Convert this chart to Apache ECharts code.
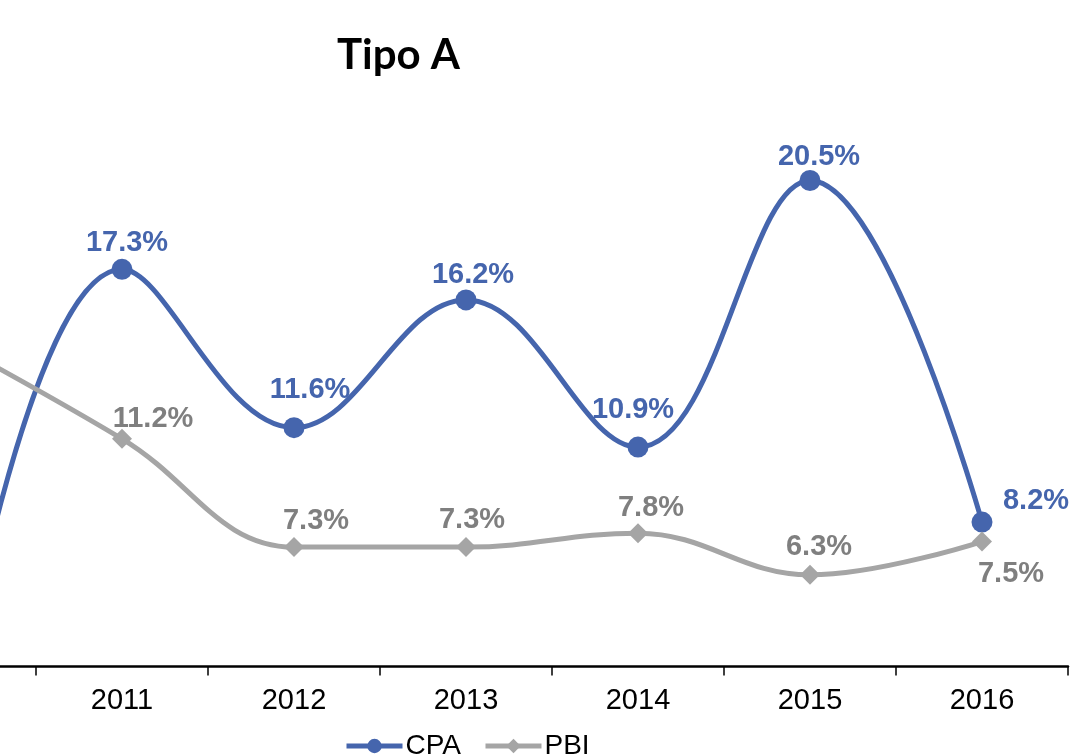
<!DOCTYPE html>
<html>
<head>
<meta charset="utf-8">
<title>Tipo A</title>
<script src="https://cdn.jsdelivr.net/npm/echarts@6/dist/echarts.min.js"></script>
<style>
  html, body { margin: 0; padding: 0; background: #fff; overflow: hidden; }
  #chart { position: absolute; left: -136px; top: 0; width: 1207px; height: 754px; }
</style>
</head>
<body>
<div id="chart"></div>
<script>
// data (2010 is only partly visible at the left edge)
const years = ['2010', '2011', '2012', '2013', '2014', '2015', '2016']
const cpaValues = [0.5, 17.3, 11.6, 16.2, 10.9, 20.5, 8.2]
const pbiValues = [14.7, 11.2, 7.3, 7.3, 7.8, 6.3, 7.5]

// label offsets from the marker centre, px
const cpaLabelOffsets = [[0, 0], [5, -26], [16, -38], [7, -25], [-5, -37], [9, -24], [54, -21]]
const pbiLabelOffsets = [[0, 0], [31, -20], [22, -26], [6, -27], [13, -25], [9, -28], [29, 32]]

const blue = '#4565ad'
const grayLine = '#a5a5a5'
const grayText = '#7f7f7f'

const buildData = (values, offsets) => values.map((v, i) => ({
  value: v,
  label: { show: i > 0, offset: offsets[i] }
}))

const chart = echarts.init(document.getElementById('chart'))

const option = {
  animation: false,
  title: {
    text: 'Tipo A',
    left: 468,
    top: 29,
    textStyle: { fontFamily: 'Lato', fontWeight: 'bold', fontSize: 42, color: '#000' }
  },
  legend: {
    left: 475,
    top: 727,
    itemWidth: 56,
    itemHeight: 18,
    itemGap: 22,
    lineStyle: { width: 5 },
    textStyle: { fontFamily: 'Liberation Sans', fontSize: 28, color: '#000', padding: [0, 0, 0, -2] },
    data: ['CPA', 'PBI']
  },
  grid: {
    left: 0,
    right: 3,
    top: 83.3,
    bottom: 87.5
  },
  xAxis: {
    type: 'category',
    data: years,
    axisLine: { lineStyle: { color: '#000', width: 2.5 } },
    axisTick: { show: true, length: 9, lineStyle: { color: '#000', width: 1.5 } },
    axisLabel: { fontFamily: 'Liberation Sans', fontSize: 29, color: '#000', margin: 20 }
  },
  yAxis: {
    type: 'value',
    min: 3,
    max: 24,
    show: false,
    splitLine: { show: false }
  },
  series: [
    {
      name: 'CPA',
      type: 'line',
      smooth: 0.4,
      symbol: 'circle',
      symbolSize: 21,
      lineStyle: { color: blue, width: 5 },
      itemStyle: { color: blue },
      label: {
        position: 'inside',
        fontFamily: 'Liberation Sans',
        fontWeight: 'bold',
        fontSize: 29,
        color: blue,
        formatter: p => p.value.toFixed(1) + '%'
      },
      data: buildData(cpaValues, cpaLabelOffsets)
    },
    {
      name: 'PBI',
      type: 'line',
      smooth: 0.4,
      symbol: 'diamond',
      symbolSize: 20,
      lineStyle: { color: grayLine, width: 5 },
      itemStyle: { color: grayLine },
      label: {
        position: 'inside',
        fontFamily: 'Liberation Sans',
        fontWeight: 'bold',
        fontSize: 29,
        color: grayText,
        formatter: p => p.value.toFixed(1) + '%'
      },
      data: buildData(pbiValues, pbiLabelOffsets)
    }
  ]
}

chart.setOption(option)
</script>
</body>
</html>
